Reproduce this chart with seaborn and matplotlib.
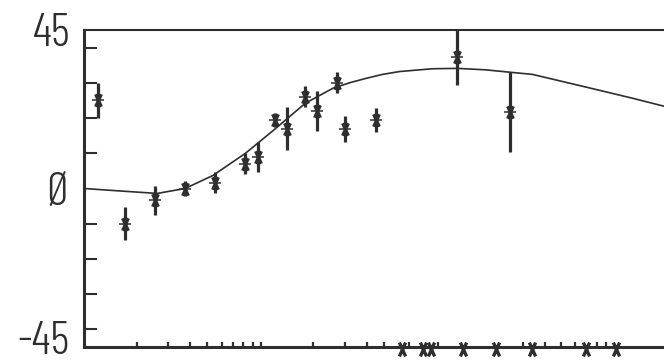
import matplotlib
matplotlib.use("Agg")
import matplotlib.pyplot as plt
from matplotlib.path import Path
from matplotlib.transforms import ScaledTranslation
import seaborn as sns
import numpy as np
import pandas as pd

# data points (phase-like x units, value)
pt_x = [2.4, 7.1, 12.2, 17.4, 22.6, 27.8, 30.0, 32.9, 35.0, 38.1, 40.2, 43.6, 45.0, 50.2, 64.3, 73.4]
pt_y = [25.0, -10.0, -3.4, 0.0, 1.7, 7.0, 9.0, 19.4, 17.0, 26.0, 22.0, 30.0, 17.0, 19.4, 37.3, 21.7]
pt_err = [5.0, 4.7, 4.0, 2.0, 3.0, 3.0, 4.3, 2.0, 6.0, 3.0, 5.7, 3.0, 3.7, 3.5, 8.0, 11.4]

# model curve
curve_x = [0, 6.2, 12.6, 17.4, 22.2, 27.8, 32.6, 38.1, 42.9, 45.9, 48.4, 51.4, 54.3, 60.0, 64.3,
           69.1, 73.4, 77.2, 85.9, 94.5, 100]
curve_y = [0, -0.7, -1.4, 0.0, 3.7, 10.0, 16.5, 24.2, 28.5, 30.1, 31.2, 32.4, 33.2, 34.0, 34.1,
           33.7, 33.0, 32.4, 29.0, 25.6, 23.3]

# bottom markers
small_ticks = [9.1, 14.5, 18.3, 21.2, 23.8, 25.7, 27.4, 29.1, 30.5, 39.5, 45.0, 48.8, 51.7, 56.0,
               60.9, 75.5, 79.3, 82.1, 84.5, 88.3, 89.8]
x_marks = [54.8, 58.3, 59.7, 65.3, 70.9, 77.1, 86.4, 91.6]

ytick_vals = [-45, 0, 45]
ytick_labels = ["-45", "Ø", "45"]
yminor = [-40, -30, -20, -10, 10, 20, 30, 40]

sns.set_style("white")
plt.rcParams['font.family'] = ['Barlow Condensed', 'DejaVu Sans']

ink = "#2e2e2e"
narrow_x = Path([(-0.45, -1), (0.45, 1), (-0.45, 1), (0.45, -1)],
                [Path.MOVETO, Path.LINETO, Path.MOVETO, Path.LINETO])

fig = plt.figure(figsize=(6.64, 3.63), dpi=100)
ax = fig.add_axes([84/664, 1-347/363, 1.0-84/664+0.01, (347-30)/363])

df_c = pd.DataFrame({"x": curve_x, "y": curve_y})
sns.lineplot(data=df_c, x="x", y="y", ax=ax, color=ink, lw=1.2)

ax.errorbar(pt_x, pt_y, yerr=pt_err, fmt="none", ecolor=ink, elinewidth=2.3, capsize=0, clip_on=False)
ax.plot(pt_x, pt_y, linestyle="none", marker=narrow_x, markersize=9, markeredgewidth=2.4,
        markeredgecolor=ink, markerfacecolor="none", zorder=5, clip_on=False)
ax.plot(pt_x, pt_y, linestyle="none", marker="_", markersize=9, markeredgewidth=1.1,
        markeredgecolor=ink, zorder=5, clip_on=False)

ax.set_xlim(0, 101)
ax.set_ylim(-45, 45)

# bottom ticks
ax.vlines(small_ticks, -45, -43.7, color=ink, lw=1.6, clip_on=False)
ax.plot(x_marks, [-45.6]*len(x_marks), linestyle="none", marker=narrow_x, markersize=10,
        markeredgewidth=2.4, markeredgecolor=ink, markerfacecolor="none", clip_on=False, zorder=6)

ax.set_yticks(ytick_vals)
ax.set_yticklabels(ytick_labels)
ax.set_yticks(yminor, minor=True)
ax.tick_params(axis="y", which="major", length=0, pad=10, labelsize=34, labelcolor=ink)
for lab in ax.get_yticklabels():
    lab.set_fontweight(300)
    lab.set_family(['Barlow Condensed', 'DejaVu Sans'])
    lab.set_verticalalignment("center_baseline")
bottom_lab = ax.yaxis.get_major_ticks()[0].label1
bottom_lab.set_transform(bottom_lab.get_transform() + ScaledTranslation(0, 9/100, fig.dpi_scale_trans))
ax.tick_params(axis="y", which="minor", direction="in", length=9, width=1.5, color=ink, left=True)
ax.set_xticks([])
ax.set_xlabel("")
ax.set_ylabel("")

for s in ["left", "bottom"]:
    ax.spines[s].set_linewidth(2.2)
    ax.spines[s].set_color(ink)
ax.spines["top"].set_linewidth(1.5)
ax.spines["top"].set_color(ink)
ax.spines["right"].set_visible(False)

fig.savefig("out.png", dpi=100)
